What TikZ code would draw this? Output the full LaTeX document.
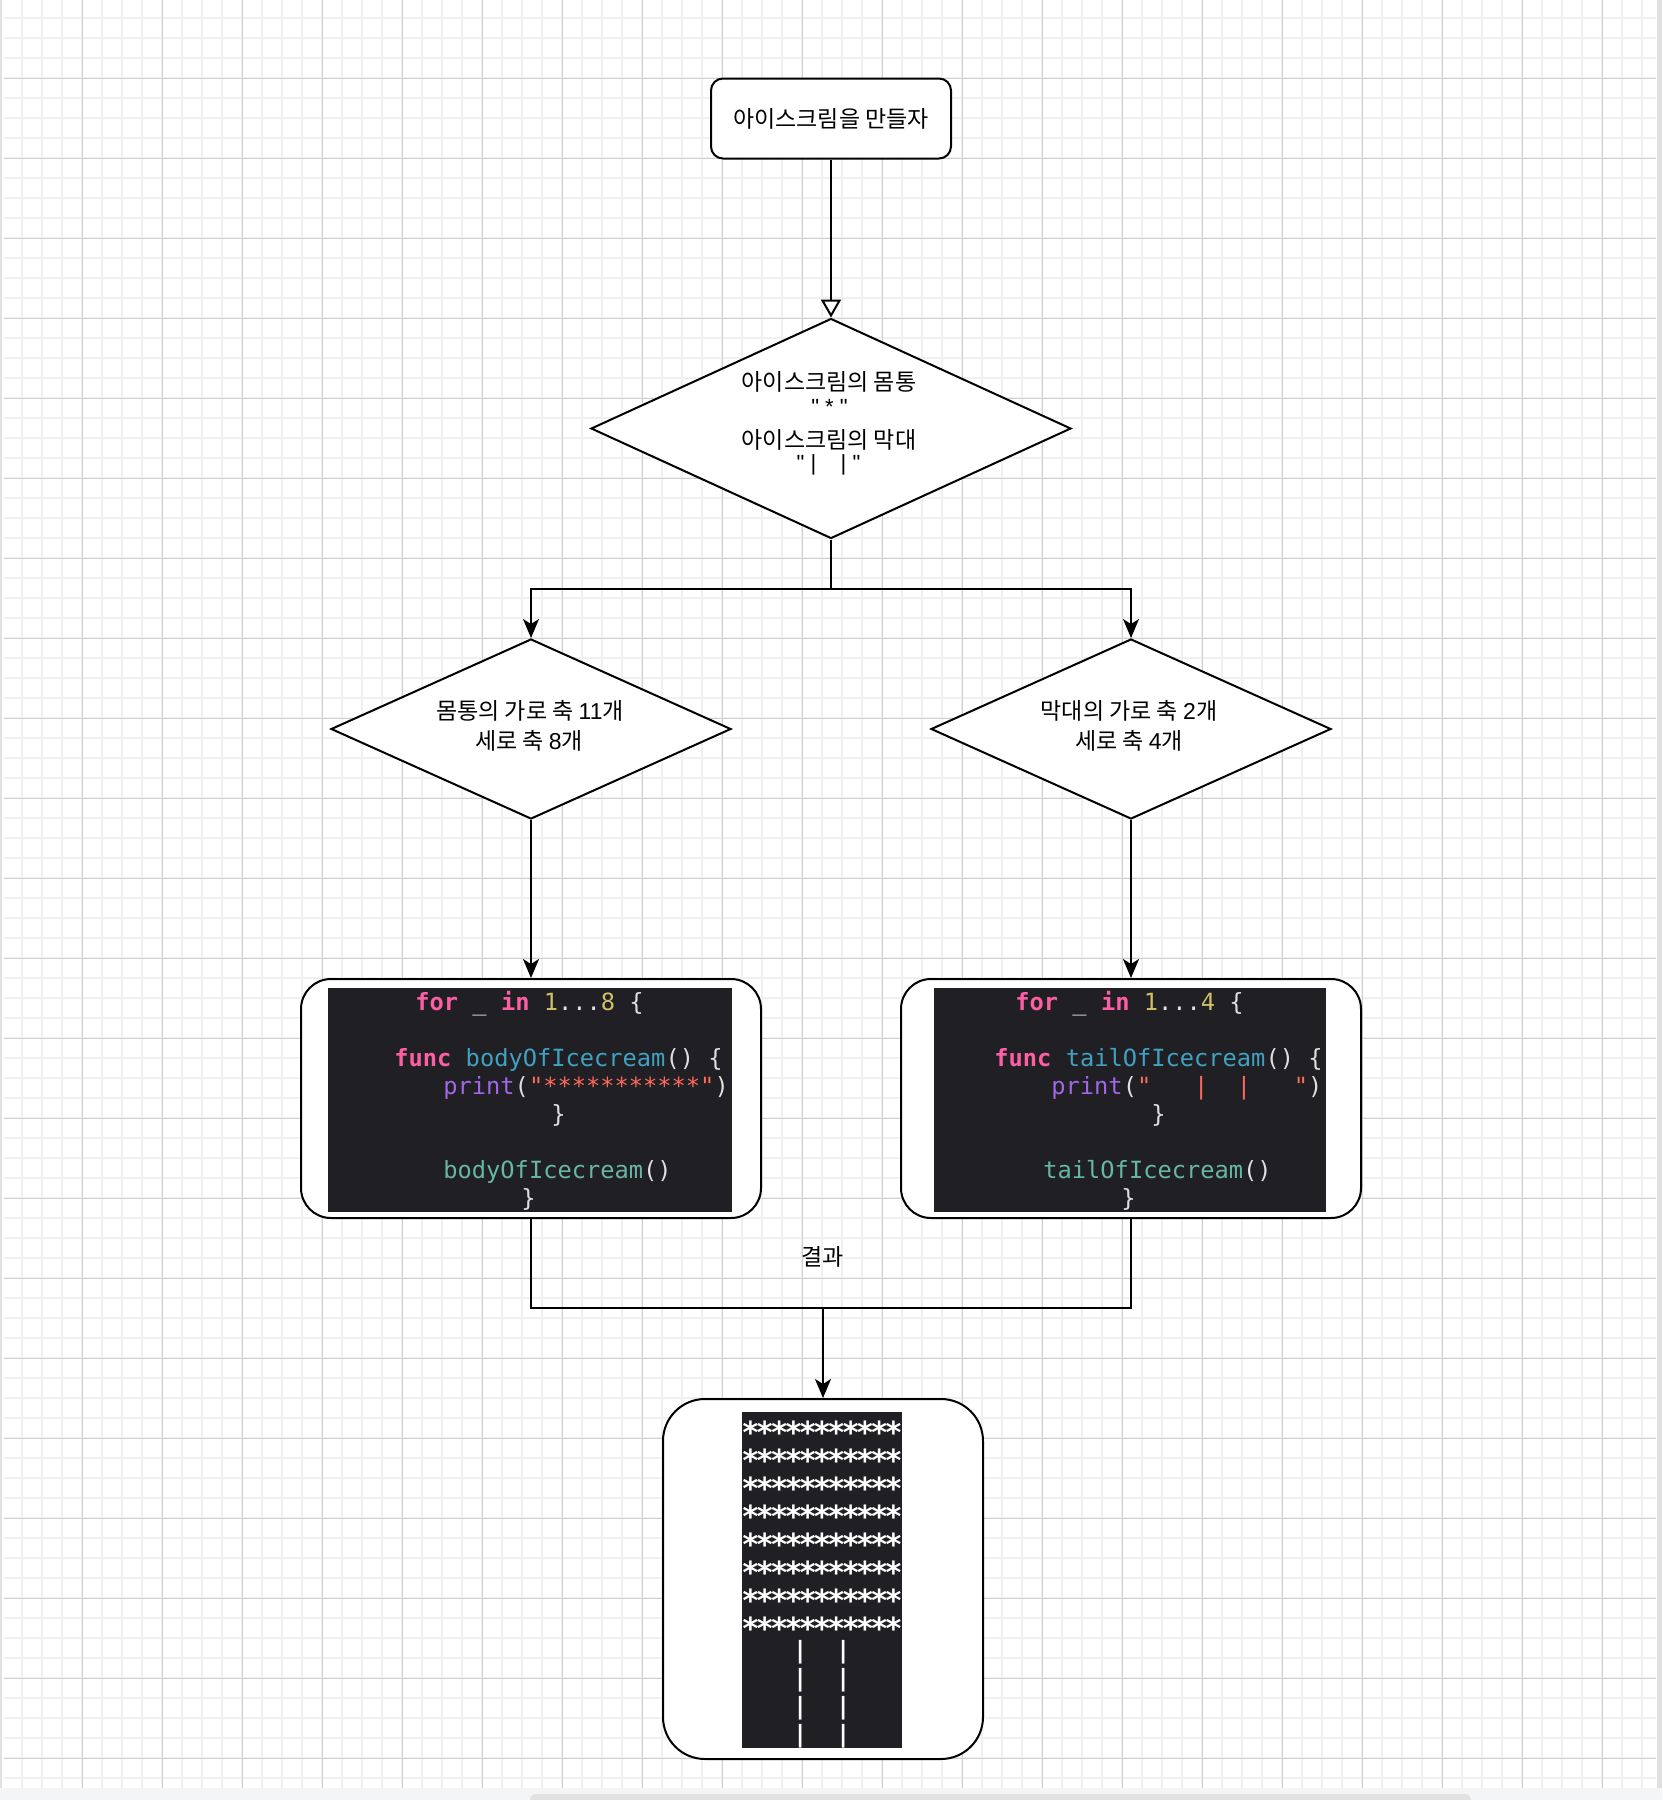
\documentclass[tikz,border=0pt]{standalone}
\usepackage{fontspec}
\newfontfamily\krfont{Noto Sans CJK KR}
\newfontfamily\latfont{Liberation Sans}
\newfontfamily\codefont{DejaVu Sans Mono}
\usetikzlibrary{shapes.geometric,arrows.meta}

\definecolor{gridMinor}{HTML}{F0F0F0}
\definecolor{gridMajor}{HTML}{D0D0D0}
\definecolor{edgeGray}{HTML}{E0E0E0}
\definecolor{bandGray}{HTML}{F4F5F6}
\definecolor{barGray}{HTML}{E1E1E1}
\definecolor{codeBg}{HTML}{1F1F24}
\definecolor{cKw}{HTML}{FC5FA3}
\definecolor{cNum}{HTML}{D0BF69}
\definecolor{cPlain}{HTML}{DFDFE0}
\definecolor{cDecl}{HTML}{41A1C0}
\definecolor{cFn}{HTML}{A167E6}
\definecolor{cStr}{HTML}{FC6A5D}
\definecolor{cCall}{HTML}{67B7A4}

% code helpers
\newcommand\kwd[1]{{\bfseries\color{cKw}#1}}
\newcommand\sk{\hphantom{0}}
% one console asterisk in a fixed-pitch cell
\newcommand\st{\makebox[7.15pt]{\fontsize{15.2pt}{14pt}\selectfont\raisebox{-1.6pt}{*}}}
\newcommand\strow{\hbox{\st\st\st\st\st\st\st\st\st\st\st}}
\newcommand\barrow{\hbox{\kern3.5pt\raisebox{3pt}{\sk\sk\sk|\sk\sk|\sk\sk\sk}}}

\tikzset{
  minorline/.style={draw=gridMinor, line width=0.8pt},
  majorline/.style={draw=gridMajor, line width=0.5pt},
  conn/.style={draw=black, line width=1pt},
  arr/.style={conn, -{Stealth[length=9.5pt,width=8pt,inset=2.5pt]}},
  openarr/.style={conn, -{Triangle[open,length=9pt,width=10pt]}},
  startbox/.style={draw, line width=1pt, rounded corners=6pt, fill=white,
    inner sep=0pt, minimum width=120pt, minimum height=40pt},
  dia/.style={draw, shape=diamond, line width=1pt, fill=white, inner sep=0pt},
  lbl/.style={inner sep=0pt, font=\krfont\fontsize{11.5pt}{13pt}\selectfont},
  latlbl/.style={inner sep=0pt, font=\latfont\fontsize{11pt}{13pt}\selectfont},
  codebox/.style={draw, line width=1pt, rounded corners=15pt, fill=white,
    inner sep=0pt, minimum width=230pt, minimum height=119.5pt},
  panel/.style={fill=codeBg, inner sep=0pt},
  cl/.style={anchor=base west, inner sep=0pt, text=cPlain,
    font=\codefont\fontsize{11.85pt}{14pt}\selectfont},
  outtxt/.style={anchor=base west, inner sep=0pt, text=white,
    font=\codefont\bfseries\fontsize{11.85pt}{14pt}\selectfont},
  resbox/.style={draw, line width=1pt, rounded corners=21pt, fill=white,
    inner sep=0pt, minimum width=160pt, minimum height=180pt},
}

\begin{document}
\begin{tikzpicture}[x=0.5pt,y=-0.5pt]
\useasboundingbox (0,0) rectangle (1662,1800);
\fill[white] (0,0) rectangle (1662,1800);

% background grid
\foreach \k in {1,...,82} \draw[minorline] (2+20*\k,0) -- (2+20*\k,1788);
\foreach \k in {1,...,89} \draw[minorline] (4,-2+20*\k) -- (1656,-2+20*\k);
\foreach \k in {1,...,20} \draw[majorline] (2+80*\k,0) -- (2+80*\k,1788);
\foreach \k in {1,...,22} \draw[majorline] (4,-2+80*\k) -- (1656,-2+80*\k);
\fill[edgeGray] (0,0) rectangle (1.7,1788);
\fill[edgeGray] (1657,0) rectangle (1662,1788);
\fill[bandGray] (0,1788) rectangle (1662,1800);
\fill[barGray, rounded corners=3pt] (530,1806) rectangle (1471,1794);

% start
\node[startbox, font=\krfont\fontsize{11.5pt}{13pt}\selectfont] (start) at (831,118.5) {아이스크림을 만들자};

% main decision
\node[dia, minimum width=240pt, minimum height=110pt] (d1) at (831,428.5) {};
\node[lbl] (t1a) at (829,381.7) {아이스크림의 몸통};
\node[latlbl] (t1b) at (829.5,406.7) {" * "};
\node[lbl] (t1c) at (829,440) {아이스크림의 막대};
\node[latlbl] (t1d) at (828.5,465) {"\ |\ \ \ \ |\ "};

% body / stick decisions
\node[dia, minimum width=200pt, minimum height=90pt] (d2) at (531,729) {};
\node[lbl] (t2a) at (530,710.7) {몸통의 가로 축 {\latfont 11}개};
\node[lbl] (t2b) at (529,740.7) {세로 축 {\latfont 8}개};

\node[dia, minimum width=200pt, minimum height=90pt] (d3) at (1131,729) {};
\node[lbl] (t3a) at (1129,710.7) {막대의 가로 축 {\latfont 2}개};
\node[lbl] (t3b) at (1129,740.7) {세로 축 {\latfont 4}개};

% code boxes
\node[codebox] (code1) at (531,1098.5) {};
\node[panel, minimum width=202pt, minimum height=112pt] (pan1) at (530,1100) {};
\node[cl] (b1) at (415,1010) {\kwd{for} \_ \kwd{in} {\color{cNum}1}...{\color{cNum}8} \{};
\node[cl] (b2) at (394,1066) {\kwd{func} {\color{cDecl}bodyOfIcecream}() \{};
\node[cl] (b3) at (443,1094) {{\color{cFn}print}({\color{cStr}"***********"})};
\node[cl] (b4) at (551,1122) {\}};
\node[cl] (b5) at (443,1178) {{\color{cCall}bodyOfIcecream}()};
\node[cl] (b6) at (521,1206) {\}};

\node[codebox] (code2) at (1131,1098.5) {};
\node[panel, minimum width=196pt, minimum height=112pt] (pan2) at (1130,1100) {};
\node[cl] (r1) at (1015,1010) {\kwd{for} \_ \kwd{in} {\color{cNum}1}...{\color{cNum}4} \{};
\node[cl] (r2) at (994,1066) {\kwd{func} {\color{cDecl}tailOfIcecream}() \{};
\node[cl] (r3) at (1051,1094) {{\color{cFn}print}({\color{cStr}"\sk\sk\sk|\sk\sk|\sk\sk\sk"})};
\node[cl] (r4) at (1151,1122) {\}};
\node[cl] (r5) at (1043,1178) {{\color{cCall}tailOfIcecream}()};
\node[cl] (r6) at (1121,1206) {\}};

% result: console output, 8 body rows then 4 stick rows at a fixed pitch
\node[resbox] (res) at (823,1579) {};
\node[panel, minimum width=80pt, minimum height=168pt] (out) at (822,1580) {};
\node[outtxt] (console) at (743,1440) {\vtop{\baselineskip=14pt\lineskiplimit=-100pt\lineskip=0pt
  \strow\strow\strow\strow\strow\strow\strow\strow
  \barrow\barrow\barrow\barrow}};

\node[lbl] (lres) at (822.3,1257) {결과};

% connectors
\coordinate (split) at (831,589);
\coordinate (merge) at (823,1308);
\draw[openarr] (start.south) -- (d1.north);
\draw[arr] (d1.south) -- (split) -| (d2.north);
\draw[arr] (split) -| (d3.north);
\draw[arr] (d2.south) -- (code1.north);
\draw[arr] (d3.south) -- (code2.north);
\draw[conn] (code1.south) |- (merge);
\draw[conn] (code2.south) |- (merge);
\draw[arr] (merge) -- (res.north);
\end{tikzpicture}
\end{document}
